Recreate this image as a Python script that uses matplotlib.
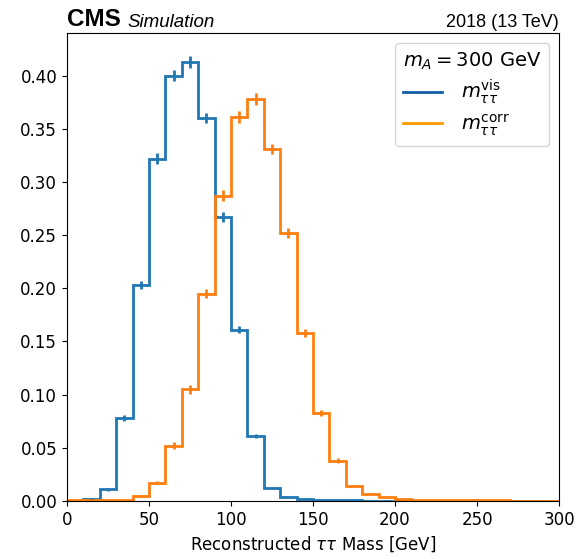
import numpy as np
import matplotlib
matplotlib.use('Agg')
import matplotlib.pyplot as plt

# Histogramas normalizados de la masa reconstruida tau-tau (bins de 10 GeV)
bordes = np.arange(0, 310, 10)

m_vis = [0.0, 0.002, 0.011, 0.078, 0.203, 0.322, 0.400, 0.413, 0.360, 0.267,
         0.161, 0.061, 0.012, 0.004, 0.002, 0.001, 0.0008, 0.0005, 0.0003, 0.0002,
         0.0, 0.0, 0.0, 0.0, 0.0, 0.0, 0.0, 0.0, 0.0, 0.0]
err_vis = [0.0, 0.0005, 0.0015, 0.003, 0.004, 0.005, 0.0055, 0.0055, 0.005, 0.0045,
           0.0035, 0.002, 0.001, 0.0005, 0.0, 0.0, 0.0, 0.0, 0.0, 0.0,
           0.0, 0.0, 0.0, 0.0, 0.0, 0.0, 0.0, 0.0, 0.0, 0.0]

m_corr = [0.0005, 0.0005, 0.001, 0.001, 0.005, 0.017, 0.052, 0.105, 0.195, 0.287,
          0.361, 0.378, 0.331, 0.252, 0.158, 0.083, 0.038, 0.014, 0.0066, 0.0035,
          0.002, 0.0012, 0.001, 0.001, 0.0008, 0.0008, 0.0006, 0.0, 0.0, 0.0]
err_corr = [0.0, 0.0, 0.0, 0.0, 0.001, 0.0015, 0.003, 0.004, 0.0045, 0.005,
            0.0055, 0.0055, 0.005, 0.0045, 0.004, 0.003, 0.002, 0.001, 0.0005, 0.0,
            0.0, 0.0, 0.0, 0.0, 0.0, 0.0, 0.0, 0.0, 0.0, 0.0]

centros = (bordes[:-1] + bordes[1:]) / 2

fig = plt.figure(figsize=(5.77, 5.59), dpi=100)
ax = fig.add_axes([0.116, 0.1038, 0.853, 0.837])

for valores, errores, color in [(m_vis, err_vis, '#1f77b4'), (m_corr, err_corr, '#ff7f0e')]:
    ax.stairs(valores, bordes, color=color, linewidth=2)
    ax.errorbar(centros, valores, yerr=errores, fmt='none', ecolor=color, elinewidth=2)

# Lineas solo para la leyenda
ax.plot([], [], color='#105fa8', linewidth=2, label=r'$m_{\tau\tau}^{\mathrm{vis}}$')
ax.plot([], [], color='#ff9900', linewidth=2, label=r'$m_{\tau\tau}^{\mathrm{corr}}$')

ax.set_xlim(0, 300)
ax.set_ylim(0, 0.44)
ax.set_yticks(np.arange(0, 0.41, 0.05))
ax.tick_params(labelsize=12)
ax.set_xlabel(r'Reconstructed $\tau\tau$ Mass [GeV]', fontsize=12)

ax.legend(title=r'$m_A = 300$ GeV', fontsize=14, title_fontsize=14,
          loc='upper right', alignment='left', labelspacing=0.3,
          handletextpad=1.0)

ax.text(0.0, 1.005, 'CMS', transform=ax.transAxes, fontsize=17.5, fontweight='bold',
        family='Liberation Sans', va='bottom', ha='left')
ax.text(0.122, 1.005, 'Simulation', transform=ax.transAxes, fontsize=13.5, style='italic',
        family='Liberation Sans', va='bottom', ha='left')
ax.text(1.0, 1.005, '2018 (13 TeV)', transform=ax.transAxes, fontsize=13,
        family='Liberation Sans', va='bottom', ha='right')

plt.savefig('out.png', dpi=100)
